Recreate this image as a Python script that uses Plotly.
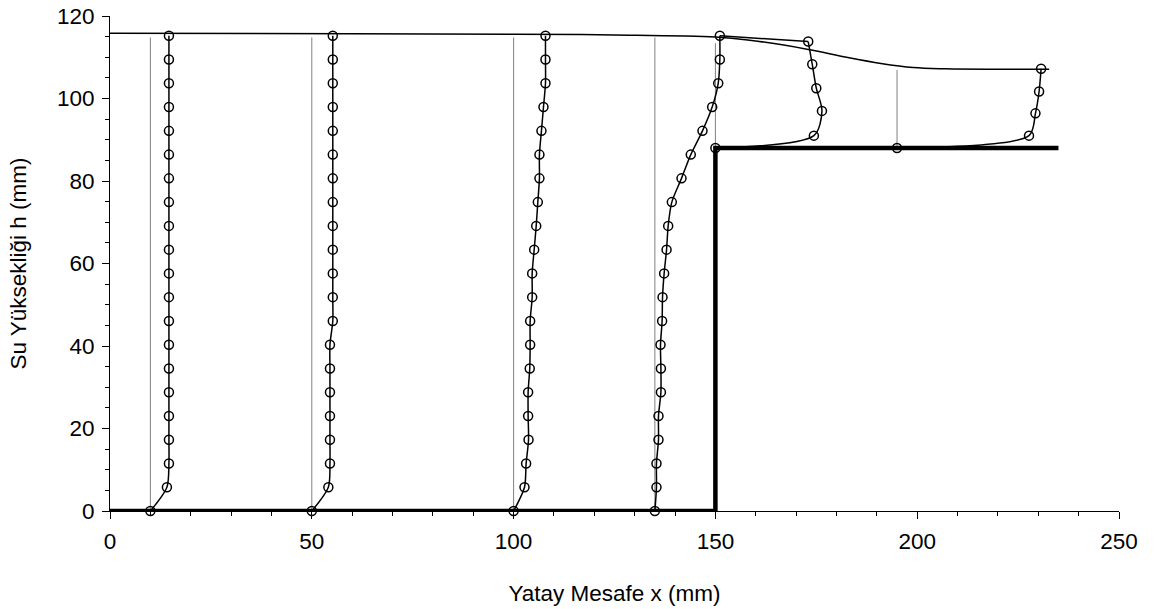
import plotly.graph_objects as go

# ---- data ----
heights = [0, 5.76, 11.52, 17.28, 23.04, 28.8, 34.56, 40.32, 46.08, 51.84, 57.6,
           63.36, 69.12, 74.88, 80.64, 86.4, 92.16, 97.92, 103.68, 109.44, 115.2]

profile1_x = [10.0, 14.1, 14.6, 14.6, 14.6, 14.6, 14.6, 14.6, 14.6, 14.6, 14.6,
              14.6, 14.6, 14.6, 14.6, 14.6, 14.6, 14.6, 14.6, 14.6, 14.6]
profile2_x = [50.0, 54.1, 54.5, 54.5, 54.5, 54.5, 54.5, 54.5, 55.2, 55.2, 55.2,
              55.2, 55.2, 55.2, 55.2, 55.2, 55.2, 55.2, 55.2, 55.2, 55.2]
profile3_x = [100.0, 102.7, 103.1, 103.7, 103.6, 103.6, 104.0, 104.1, 104.1, 104.6, 104.6,
              105.1, 105.6, 106.0, 106.4, 106.4, 106.9, 107.4, 107.9, 107.9, 107.9]
profile4_x = [135.0, 135.4, 135.4, 135.9, 135.9, 136.5, 136.5, 136.4, 136.8, 136.9, 137.3,
              137.9, 138.3, 139.2, 141.6, 143.9, 146.8, 149.2, 150.7, 151.1, 151.1]

profile5_x = [150.0, 174.4, 176.4, 175.0, 174.0, 173.0]
profile5_h = [88.0, 91.0, 97.0, 102.5, 108.3, 113.8]
link5_x = [151.1, 173.0]
link5_h = [115.2, 113.8]

profile6_x = [195.0, 227.7, 229.3, 230.2, 230.7]
profile6_h = [88.0, 91.0, 96.4, 101.7, 107.2]

surface_x = [0, 60, 100, 125, 150, 158, 173, 182.5, 191, 199, 207, 220, 232.7]
surface_h = [115.8, 115.7, 115.6, 115.4, 114.9, 114.2, 111.9, 110.0, 108.5, 107.5, 107.2, 107.1, 107.1]

stations_x = [10, 50, 100, 135, 150, 195]
stations_bottom = [0, 0, 0, 0, 88, 88]
stations_top = [114.8, 114.8, 114.8, 114.8, 113.4, 106.9]

bed_x = [0, 150, 150, 235]
bed_h = [0, 0, 88, 88]

x_ticks = [0, 50, 100, 150, 200, 250]
y_ticks = [0, 20, 40, 60, 80, 100, 120]

FONT = "Liberation Sans, Arial, sans-serif"

fig = go.Figure()

# station reference lines
for sx, sb, st in zip(stations_x, stations_bottom, stations_top):
    fig.add_trace(go.Scatter(x=[sx, sx], y=[sb, st], mode="lines",
                             line=dict(color="#808080", width=1),
                             hoverinfo="skip", showlegend=False, cliponaxis=False))

# channel bed with step
fig.add_trace(go.Scatter(x=bed_x, y=bed_h, mode="lines",
                         line=dict(color="black", width=4.5),
                         showlegend=False, cliponaxis=False))

# free surface
fig.add_trace(go.Scatter(x=surface_x, y=surface_h, mode="lines",
                         line=dict(color="black", width=1.5, shape="spline", smoothing=1.0),
                         showlegend=False, cliponaxis=False))
fig.add_trace(go.Scatter(x=link5_x, y=link5_h, mode="lines",
                         line=dict(color="black", width=1.5),
                         showlegend=False, cliponaxis=False))

marker = dict(symbol="circle-open", size=9, color="black", line=dict(width=1.5, color="black"))
for px, ph in [(profile1_x, heights), (profile2_x, heights), (profile3_x, heights),
               (profile4_x, heights), (profile5_x, profile5_h), (profile6_x, profile6_h)]:
    fig.add_trace(go.Scatter(x=px, y=ph, mode="lines+markers",
                             line=dict(color="black", width=1.5, shape="spline", smoothing=0.8),
                             marker=marker, showlegend=False, cliponaxis=False))

fig.update_layout(
    width=1161, height=609,
    margin=dict(l=110, r=42, t=16, b=98),
    paper_bgcolor="white", plot_bgcolor="white",
    font=dict(family=FONT, size=22.5, color="black"),
    xaxis=dict(range=[0, 250], tickvals=x_ticks, ticks="outside", ticklen=7,
               tickcolor="black", showline=True, linecolor="black", linewidth=1,
               showgrid=False, zeroline=False, automargin=False, ticklabelstandoff=3,
               ticklabeloverflow="allow",
               minor=dict(dtick=10, ticks="outside", ticklen=4, tickcolor="black", showgrid=False),
               title=dict(text="Yatay Mesafe x (mm)", standoff=32, font=dict(size=22.5))),
    yaxis=dict(range=[0, 120], tickvals=y_ticks, ticks="outside", ticklen=7,
               tickcolor="black", showline=True, linecolor="black", linewidth=1,
               showgrid=False, zeroline=False, automargin=False, ticklabelstandoff=3,
               ticklabeloverflow="allow",
               minor=dict(dtick=5, ticks="outside", ticklen=4, tickcolor="black", showgrid=False),
               title=dict(text="Su Yüksekliği h (mm)", standoff=24, font=dict(size=22.5))),
)

fig.write_html("out.html", config={"displayModeBar": False},
               post_script="document.body.style.margin='0';")
